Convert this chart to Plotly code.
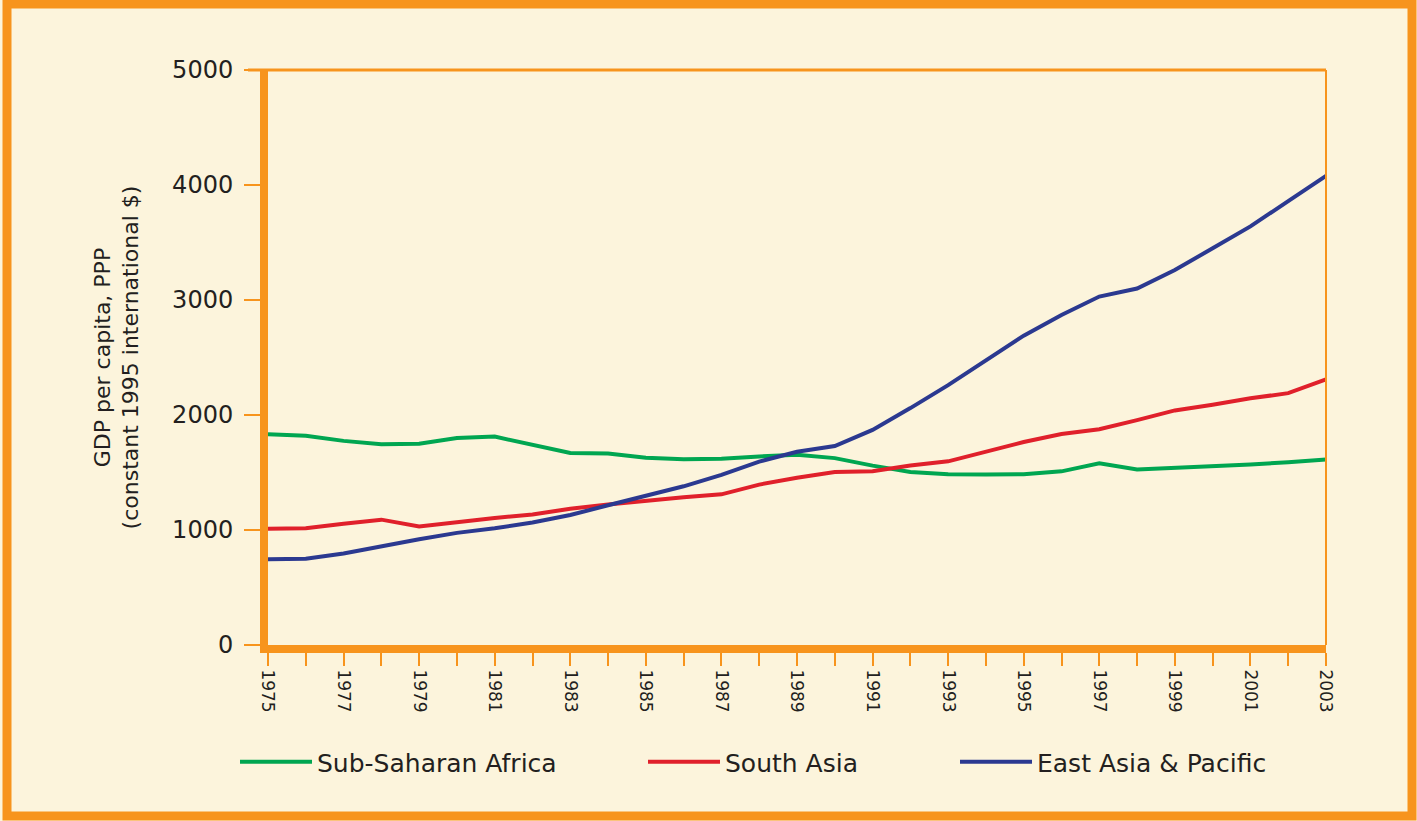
import plotly.graph_objects as go

years = list(range(1975, 2004))
sub_saharan = [1832, 1820, 1775, 1745, 1750, 1800, 1812, 1740, 1670, 1665, 1628, 1615, 1620, 1640, 1655,
               1625, 1560, 1505, 1485, 1483, 1485, 1510, 1580, 1527, 1540, 1555, 1570, 1590, 1612]
south_asia = [1010, 1015, 1055, 1090, 1030, 1070, 1105, 1135, 1185, 1222, 1255, 1285, 1310, 1395, 1455,
              1505, 1510, 1560, 1597, 1680, 1765, 1835, 1876, 1955, 2040, 2090, 2145, 2190, 2310]
east_asia = [745, 750, 795, 860, 920, 975, 1015, 1065, 1130, 1215, 1300, 1380, 1480, 1595, 1680,
             1730, 1870, 2060, 2260, 2480, 2690, 2870, 3030, 3100, 3260, 3450, 3640, 3860, 4080]
series_names = ["Sub-Saharan Africa", "South Asia", "East Asia & Pacific"]
series_colors = ["#00A651", "#E0202B", "#2B3990"]
y_ticks = [0, 1000, 2000, 3000, 4000, 5000]

W, H = 1417, 821
ML, MR, MT, MB = 268, 91, 70, 176
PW, PH = W - ML - MR, H - MT - MB
ORANGE = "#F7941D"
CREAM = "#FCF4DC"
TXT = "#231F20"
FONT = "DejaVu Sans"


def px(xp):
    return (xp - ML) / PW


def py(yp):
    return (H - MB - yp) / PH


fig = go.Figure()
legends = ["legend", "legend2", "legend3"]
for name, vals, col, lg in zip(series_names, [sub_saharan, south_asia, east_asia], series_colors, legends):
    fig.add_trace(go.Scatter(x=years, y=vals, mode="lines", name=name,
                             line=dict(color=col, width=4), legend=lg))

legend_x = [240, 648, 960]
common_leg = dict(orientation="h", xanchor="left", yanchor="middle", bgcolor="rgba(0,0,0,0)",
                  font=dict(family=FONT, size=25, color=TXT), itemwidth=72)
leg_layout = {}
for lg, lx in zip(legends, legend_x):
    leg_layout[lg] = dict(common_leg, x=px(lx - 5), y=py(762))

fig.update_layout(
    width=W, height=H,
    margin=dict(l=ML, r=MR, t=MT, b=MB, autoexpand=False),
    paper_bgcolor=CREAM, plot_bgcolor=CREAM,
    showlegend=True,
    **leg_layout,
)

fig.update_xaxes(
    range=[1975, 2003], tick0=1975, dtick=2, tickangle=90,
    ticks="outside", ticklen=13, tickwidth=2, tickcolor=ORANGE,
    minor=dict(dtick=1, tick0=1975, ticks="outside", ticklen=13, tickwidth=2, tickcolor=ORANGE),
    showline=True, linecolor=ORANGE, linewidth=8,
    showgrid=False, zeroline=False,
    tickfont=dict(family=FONT, size=17, color=TXT),
)
fig.update_yaxes(
    range=[0, 5000], tickvals=y_ticks, ticktext=[str(v) for v in y_ticks],
    ticks="outside", ticklen=16, tickwidth=2, tickcolor=ORANGE,
    showline=True, linecolor=ORANGE, linewidth=8,
    showgrid=False, zeroline=False, ticklabelstandoff=6,
    tickfont=dict(family=FONT, size=24, color=TXT),
    title=dict(text="GDP per capita, PPP<br>(constant 1995 international $)",
               font=dict(family=FONT, size=22, color=TXT), standoff=30),
)

# thin top and right frame of plot area
fig.add_shape(type="line", xref="paper", yref="paper", x0=px(248), x1=1, y0=1, y1=1,
              line=dict(color=ORANGE, width=3))
fig.add_shape(type="line", xref="paper", yref="paper", x0=1, x1=1, y0=0, y1=1,
              line=dict(color=ORANGE, width=2))
# outer frame
fig.add_shape(type="rect", xref="paper", yref="paper", x0=px(7), x1=px(1412), y0=py(4), y1=py(816),
              line=dict(color=ORANGE, width=9))

fig.write_html("out.html", config={"displayModeBar": False},
               post_script="document.body.style.margin='0';document.body.style.overflow='hidden';")
